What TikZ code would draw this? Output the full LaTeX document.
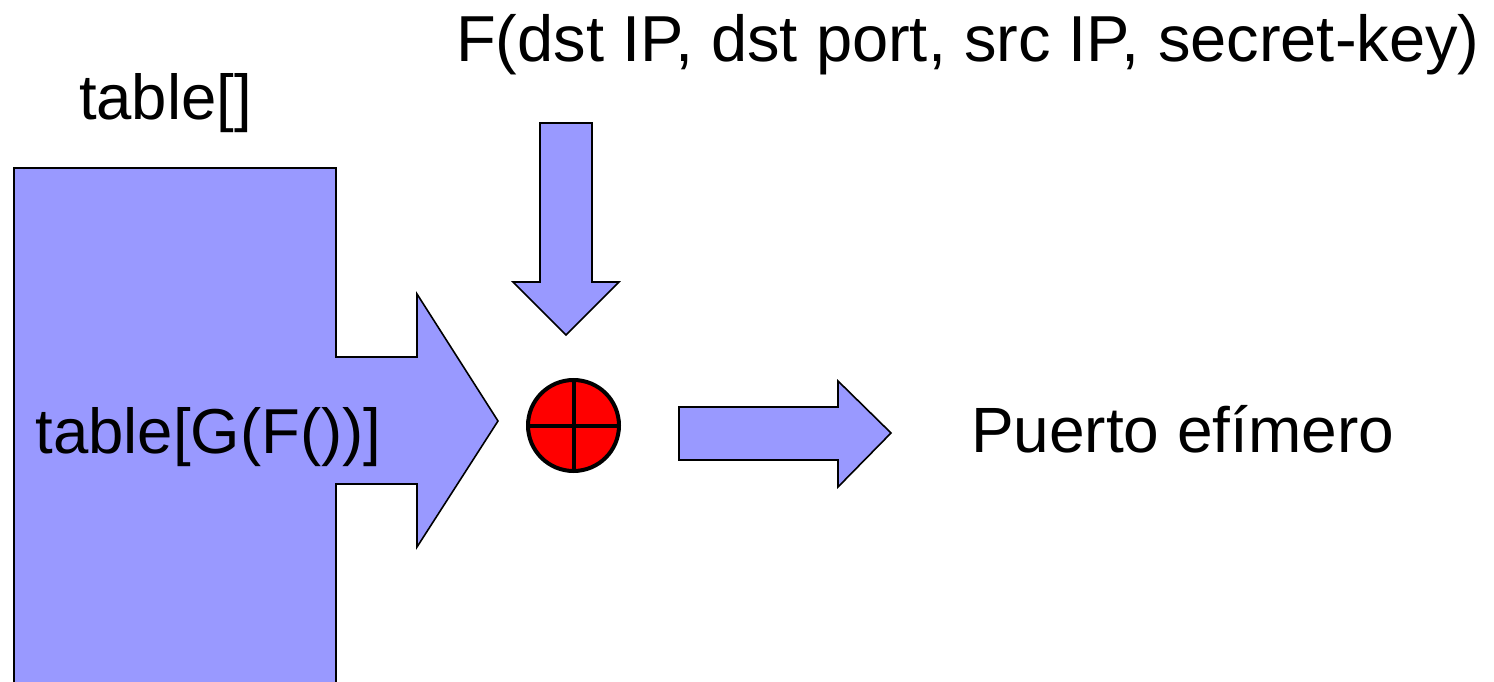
\documentclass[tikz,border=0pt]{standalone}
\usepackage{fontspec}
\setmainfont{Liberation Sans}
\definecolor{blockblue}{RGB}{153,153,255}
\definecolor{xorred}{RGB}{255,0,0}
\tikzset{
  blockarrow/.style={fill=blockblue, draw=black, line width=1.6pt, line join=miter},
  label/.style={inner sep=0pt, outer sep=0pt, anchor=base west, font=\fontsize{63.5}{76}\selectfont},
  xorcircle/.style={circle, fill=xorred, draw=black, line width=4pt, minimum size=91pt, inner sep=0pt}
}
\begin{document}
\begin{tikzpicture}[x=1pt,y=-1pt]
\useasboundingbox (0,0) rectangle (1494,682);
\clip (0,0) rectangle (1494,682);
% big table block with right arrow
\draw[blockarrow] (14,720) -- (14,168) -- (336,168) -- (336,357) -- (417,357) -- (417,294)
  -- (498,421) -- (417,547) -- (417,484) -- (336,484) -- (336,720);
% down arrow
\draw[blockarrow] (540,123) -- (592,123) -- (592,282) -- (619,282) -- (566,335)
  -- (513,282) -- (540,282) -- cycle;
% xor circle
\node[xorcircle] (xor) at (573.5,425.5) {};
\draw[line width=4pt] (xor.north) -- (xor.south);
\draw[line width=4pt] (xor.west) -- (xor.east);
% right arrow
\draw[blockarrow] (679,407) -- (838,407) -- (838,381) -- (891,433) -- (838,487)
  -- (838,460) -- (679,460) -- cycle;
% texts
\node[label, font=\fontsize{65}{78}\selectfont] (ftext) at (456,62) {F(dst IP, dst port, src IP, secret-key)};
\node[label] (tabletop) at (79,120) {table[]};
\node[label] (tableg) at (35.5,453) {table[G(F())]};
\node[label, font=\fontsize{64}{77}\selectfont] (puerto) at (971,452.5) {Puerto efímero};
\end{tikzpicture}
\end{document}
